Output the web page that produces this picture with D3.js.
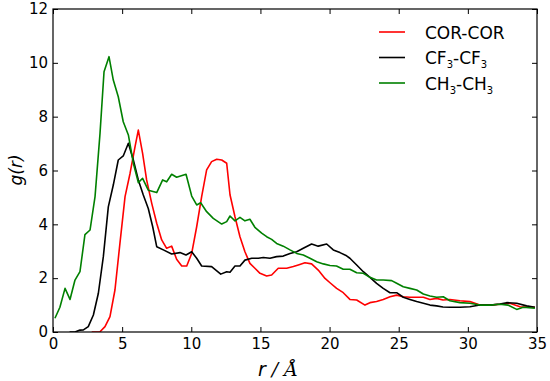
<!DOCTYPE html>
<html>
<head>
<meta charset="utf-8">
<script src="https://cdn.jsdelivr.net/npm/d3@7"></script>
<style>
  body { margin: 0; background: white; }
  svg text { font-family: "DejaVu Sans", sans-serif; }
</style>
</head>
<body>
<div id="chart"></div>
<script>
// g(r) data, [r, g]
var corCor = [[2.8,0],[3.4,0.01],[3.76,0.2],[4.12,0.57],[4.48,1.56],[4.84,3.29],[5.21,5.03],[5.57,5.89],[5.93,6.88],[6.17,7.5],
  [6.48,6.64],[6.77,5.65],[7.14,4.78],[7.5,4.04],[7.86,3.42],[8.22,3.11],[8.58,3.19],[8.94,2.7],[9.31,2.45],[9.67,2.45],
  [10.03,2.92],[10.39,3.91],[10.75,5.03],[11.11,6.02],[11.47,6.33],[11.84,6.42],[12.2,6.39],[12.56,6.27],[12.8,5.1],[13.16,4.28],
  [13.52,3.54],[13.88,2.98],[14.24,2.55],[14.6,2.37],[14.97,2.18],[15.45,2.08],[15.81,2.12],[16.29,2.37],[16.9,2.37],[17.38,2.43],
  [17.74,2.49],[18.22,2.57],[18.7,2.53],[19.18,2.3],[19.67,1.99],[20.03,1.83],[20.51,1.62],[20.99,1.46],[21.47,1.21],[21.96,1.19],
  [22.56,1.0],[22.92,1.09],[23.4,1.13],[23.88,1.21],[24.37,1.31],[24.85,1.37],[25.33,1.31],[25.81,1.29],[26.3,1.29],[26.78,1.29],
  [27.26,1.21],[27.74,1.25],[28.2,1.19],[28.7,1.21],[29.43,1.16],[30.15,1.13],[30.87,1.0],[31.6,1.0],[32.32,1.03],[33.04,1.07],
  [33.77,0.94],[34.85,0.92]];

var cf3Cf3 = [[1.2,0],[1.59,0],[1.95,0.07],[2.2,0.08],[2.55,0.2],[2.92,0.63],[3.28,1.44],[3.64,2.8],[4.0,4.65],[4.36,5.46],
  [4.72,6.39],[5.08,6.54],[5.45,7.01],[5.81,6.39],[6.17,5.65],[6.53,5.09],[6.89,4.59],[7.21,3.91],[7.5,3.17],[7.98,3.05],
  [8.58,2.9],[9.18,2.95],[9.62,2.86],[10.03,2.98],[10.39,2.74],[10.75,2.45],[11.47,2.43],[12.13,2.15],[12.56,2.24],[12.8,2.22],
  [13.16,2.45],[13.52,2.45],[13.88,2.67],[14.37,2.74],[14.85,2.74],[15.21,2.77],[15.69,2.74],[16.17,2.8],[16.65,2.82],[17.14,2.92],
  [17.62,2.98],[18.1,3.11],[18.7,3.27],[19.18,3.19],[19.79,3.27],[20.27,3.05],[20.75,2.95],[21.23,2.83],[21.47,2.74],[21.96,2.49],
  [22.44,2.24],[22.92,2.03],[23.4,1.81],[23.88,1.62],[24.37,1.46],[24.85,1.46],[25.33,1.29],[25.81,1.21],[26.3,1.13],[26.78,1.07],
  [27.26,1.0],[27.74,0.97],[28.2,0.93],[28.7,0.92],[29.43,0.92],[30.15,0.94],[30.87,1.0],[31.6,1.0],[32.32,1.04],[32.8,1.09],
  [33.53,1.07],[34.25,0.97],[34.85,0.92]];

var ch3Ch3 = [[0.14,0.51],[0.5,0.92],[0.87,1.62],[1.23,1.21],[1.59,1.93],[1.95,2.24],[2.31,3.62],[2.68,3.79],[3.04,5.03],[3.4,7.38],
  [3.69,9.67],[4.05,10.23],[4.36,9.36],[4.72,8.74],[5.08,7.81],[5.45,7.32],[5.81,6.27],[6.17,5.55],[6.48,5.71],[6.89,5.27],
  [7.5,5.18],[7.93,5.65],[8.22,5.58],[8.58,5.86],[8.94,5.75],[9.62,5.86],[10.03,5.05],[10.39,4.72],[10.68,4.8],[11.11,4.47],
  [11.59,4.22],[12.2,4.01],[12.56,4.1],[12.8,4.31],[13.16,4.13],[13.52,4.26],[13.88,4.13],[14.24,4.19],[14.6,3.89],[15.09,3.67],
  [15.45,3.54],[15.81,3.44],[16.17,3.29],[16.65,3.19],[17.14,3.05],[17.62,2.92],[18.1,2.86],[18.58,2.74],[19.07,2.61],[19.55,2.53],
  [20.03,2.47],[20.5,2.45],[20.99,2.33],[21.47,2.33],[21.96,2.2],[22.44,2.18],[22.92,2.03],[23.4,1.93],[23.88,1.93],[24.49,1.91],
  [24.85,1.81],[25.33,1.68],[25.81,1.62],[26.3,1.56],[26.78,1.41],[27.26,1.34],[27.74,1.29],[28.22,1.31],[28.7,1.16],[29.43,1.09],
  [30.15,1.07],[30.87,1.0],[31.6,1.0],[32.32,1.03],[32.9,1.0],[33.53,0.84],[34.0,0.92],[34.85,0.88]];

var xTicks = [0, 5, 10, 15, 20, 25, 30, 35];
var yTicks = [0, 2, 4, 6, 8, 10, 12];

var width = 550, height = 381;
var plotLeft = 53, plotRight = 537, plotTop = 9, plotBottom = 332;

var svg = d3.select('#chart').append('svg')
    .attr('width', width)
    .attr('height', height);

var x = d3.scaleLinear().domain([0, 35]).range([plotLeft, plotRight]);
var y = d3.scaleLinear().domain([0, 12]).range([plotBottom, plotTop]);

var series = [
    { data: corCor, color: '#ff0000', label: ['COR-COR'] },
    { data: cf3Cf3, color: '#000000', label: ['CF', '3', '-CF', '3'] },
    { data: ch3Ch3, color: '#008000', label: ['CH', '3', '-CH', '3'] }
];

var line = d3.line()
    .x(function(d) { return x(d[0]); })
    .y(function(d) { return y(d[1]); });

svg.append('defs').append('clipPath').attr('id', 'clip')
    .append('rect')
    .attr('x', plotLeft).attr('y', plotTop)
    .attr('width', plotRight - plotLeft).attr('height', plotBottom - plotTop);

svg.append('g').attr('clip-path', 'url(#clip)')
    .selectAll('path')
    .data(series)
    .enter()
    .append('path')
    .attr('d', function(d) { return line(d.data); })
    .attr('fill', 'none')
    .attr('stroke', function(d) { return d.color; })
    .attr('stroke-width', 1.6)
    .attr('stroke-linejoin', 'round');

// axes, ticks inside on all four sides
function styleAxis(g) {
    g.select('.domain').remove();
    g.selectAll('.tick line').attr('stroke', 'black').attr('stroke-width', 1);
    g.selectAll('.tick text').attr('font-size', 15).attr('fill', 'black')
        .attr('font-family', '"DejaVu Sans", sans-serif');
}

svg.append('g')
    .attr('transform', 'translate(0,' + plotBottom + ')')
    .call(d3.axisBottom(x).tickValues(xTicks).tickSize(-5).tickPadding(6))
    .call(styleAxis);

svg.append('g')
    .attr('transform', 'translate(0,' + plotTop + ')')
    .call(d3.axisTop(x).tickValues(xTicks).tickSize(-5).tickFormat(''))
    .call(styleAxis);

svg.append('g')
    .attr('transform', 'translate(' + plotLeft + ',0)')
    .call(d3.axisLeft(y).tickValues(yTicks).tickSize(-5).tickPadding(5))
    .call(styleAxis);

svg.append('g')
    .attr('transform', 'translate(' + plotRight + ',0)')
    .call(d3.axisRight(y).tickValues(yTicks).tickSize(-5).tickFormat(''))
    .call(styleAxis);

svg.append('rect')
    .attr('x', plotLeft).attr('y', plotTop)
    .attr('width', plotRight - plotLeft).attr('height', plotBottom - plotTop)
    .attr('fill', 'none')
    .attr('stroke', 'black')
    .attr('stroke-width', 1.2);

// axis labels
var xl = svg.append('text')
    .attr('x', 278).attr('y', 376)
    .attr('text-anchor', 'middle')
    .attr('font-size', 19);
xl.append('tspan').attr('font-style', 'italic').text('r');
xl.append('tspan').attr('font-family', '"DejaVu Serif", serif').attr('font-style', 'italic').text(' / Å');

svg.append('text')
    .attr('transform', 'translate(22,170) rotate(-90)')
    .attr('text-anchor', 'middle')
    .attr('font-family', '"DejaVu Serif", serif')
    .attr('font-style', 'italic')
    .attr('font-size', 17)
    .text('g(r)');

// legend
var legend = svg.append('g').selectAll('g')
    .data(series)
    .enter()
    .append('g')
    .attr('transform', function(d, i) { return 'translate(0,' + (32 + i * 25.5) + ')'; });

legend.append('line')
    .attr('x1', 379).attr('x2', 405)
    .attr('y1', 0).attr('y2', 0)
    .attr('stroke', function(d) { return d.color; })
    .attr('stroke-width', 1.6);

legend.append('text')
    .attr('x', 425).attr('y', 6.5)
    .attr('font-size', 17)
    .each(function(d) {
        var t = d3.select(this);
        d.label.forEach(function(s, k) {
            var ts = t.append('tspan').text(s);
            if (k % 2 === 1) ts.attr('font-size', 10).attr('dy', 4);
            else if (k > 0) ts.attr('dy', -4);
        });
    });
</script>
</body>
</html>
